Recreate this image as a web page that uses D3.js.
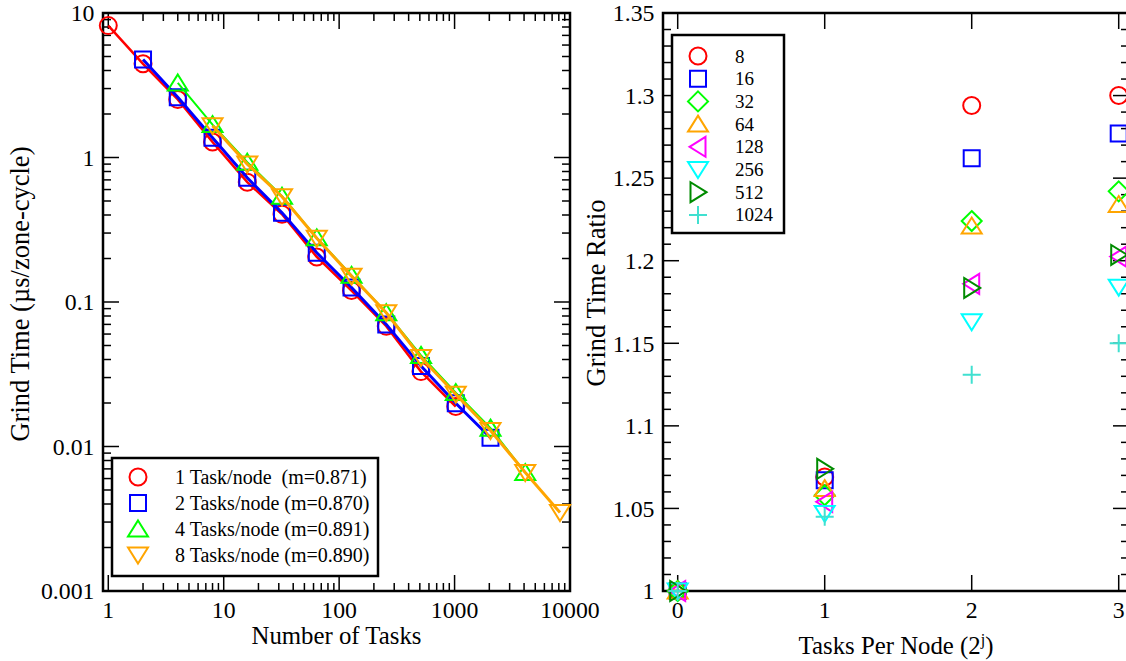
<!DOCTYPE html>
<html><head><meta charset="utf-8">
<script src="https://cdn.jsdelivr.net/npm/d3@7"></script>
<style>
html,body{margin:0;padding:0;background:#fff;}
svg text{font-family:"Liberation Serif","Times New Roman",serif;fill:#000;}
</style></head>
<body>
<svg id="c" width="1126" height="661"></svg>
<script>
// ---------- Left panel data ----------
const tasks1 = [1,2,4,8,16,32,64,128,256,512,1024];
const time1  = [8.18,4.45,2.52,1.28,0.675,0.405,0.205,0.120,0.068,0.033,0.0189];
const tasks2 = [2,4,8,16,32,64,128,256,512,1024,2048];
const time2  = [4.76,2.61,1.37,0.724,0.414,0.219,0.126,0.070,0.036,0.0199,0.0115];
const tasks4 = [4,8,16,32,64,128,256,512,1024,2048,4096];
const time4  = [3.28,1.69,0.928,0.540,0.278,0.153,0.0843,0.0427,0.0236,0.0134,0.0066];
const tasks8 = [8,16,32,64,128,256,512,1024,2048,4096,8192];
const time8  = [1.66,0.90,0.535,0.276,0.151,0.0843,0.0413,0.0230,0.0129,0.0066,0.00349];
const leftLegend = ["1 Task/node  (m=0.871)","2 Tasks/node (m=0.870)","4 Tasks/node (m=0.891)","8 Tasks/node (m=0.890)"];
const leftXTicks = [1,10,100,1000,10000];
const leftXLabels = ["1","10","100","1000","10000"];
const leftYTicks = [0.001,0.01,0.1,1,10];
const leftYLabels = ["0.001","0.01","0.1","1","10"];

// ---------- Right panel data ----------
const xj = [0,1,2,3];
const r8    = [1,1.069,1.294,1.300];
const r16   = [1,1.067,1.262,1.277];
const r32   = [1,1.058,1.224,1.242];
const r64   = [1,1.062,1.221,1.234];
const r128  = [1,1.054,1.186,1.2025];
const r256  = [1,1.047,1.163,1.184];
const r512  = [1,1.074,1.1835,1.2035];
const r1024 = [1,1.045,1.131,1.150];
const rightNames = ["8","16","32","64","128","256","512","1024"];
const rightYTicks = [1,1.05,1.1,1.15,1.2,1.25,1.3,1.35];
const rightYLabels = ["1","1.05","1.1","1.15","1.2","1.25","1.3","1.35"];
const rightXTicks = [0,1,2,3];

// ---------- helpers ----------
function symPath(t){
  switch(t){
    case "circle": return d3.symbol(d3.symbolCircle, Math.PI*8.5*8.5)();
    case "square": return "M-8,-8H8V8H-8Z";
    case "diamond": return "M0,-10L10,0L0,10L-10,0Z";
    case "up": return "M0,-8.5L10,7.5L-10,7.5Z";
    case "down": return "M0,8.5L10,-7.5L-10,-7.5Z";
    case "left": return "M-8.5,0L7.5,-10L7.5,10Z";
    case "right": return "M8.5,0L-7.5,-10L-7.5,10Z";
    case "plus": return "M-9,0H9M0,-9V9";
  }
}
const svg = d3.select("#c");
const FS_TICK = 23.8, FS_XTITLE = 24.8, FS_YTITLE = 26.5;

// =================== LEFT PANEL ===================
const L = {x0:103,x1:570,y0:13,y1:591};
const lx = d3.scaleLog().domain([0.9,10000]).range([L.x0,L.x1]);
const ly = d3.scaleLog().domain([0.001,10]).range([L.y1,L.y0]);
const gL = svg.append("g");

function logMinors(lo,hi){const a=[];for(let e=Math.floor(Math.log10(lo));e<=Math.ceil(Math.log10(hi));e++){for(let k=2;k<=9;k++){const v=k*Math.pow(10,e);if(v>lo&&v<hi)a.push(v);}}return a;}
const lxMin = logMinors(1,10000), lyMin = logMinors(0.001,10);
const tk = gL.append("g").attr("stroke","#000").attr("stroke-width",1.5);
leftXTicks.forEach(v=>{const x=lx(v);
  tk.append("line").attr("x1",x).attr("x2",x).attr("y1",L.y1).attr("y2",L.y1-16);
  tk.append("line").attr("x1",x).attr("x2",x).attr("y1",L.y0).attr("y2",L.y0+16);});
lxMin.forEach(v=>{const x=lx(v);
  tk.append("line").attr("x1",x).attr("x2",x).attr("y1",L.y1).attr("y2",L.y1-8);
  tk.append("line").attr("x1",x).attr("x2",x).attr("y1",L.y0).attr("y2",L.y0+8);});
leftYTicks.forEach(v=>{const y=ly(v);
  tk.append("line").attr("x1",L.x0).attr("x2",L.x0+16).attr("y1",y).attr("y2",y);
  tk.append("line").attr("x1",L.x1).attr("x2",L.x1-16).attr("y1",y).attr("y2",y);});
lyMin.forEach(v=>{const y=ly(v);
  tk.append("line").attr("x1",L.x0).attr("x2",L.x0+8).attr("y1",y).attr("y2",y);
  tk.append("line").attr("x1",L.x1).attr("x2",L.x1-8).attr("y1",y).attr("y2",y);});
gL.append("rect").attr("x",L.x0).attr("y",L.y0).attr("width",L.x1-L.x0).attr("height",L.y1-L.y0)
  .attr("fill","none").attr("stroke","#000").attr("stroke-width",2.5);
leftXTicks.forEach((v,i)=>gL.append("text").attr("x",lx(v)).attr("y",618).attr("text-anchor","middle")
  .attr("font-size",FS_TICK).text(leftXLabels[i]));
leftYTicks.forEach((v,i)=>gL.append("text").attr("x",L.x0-8.5).attr("y",ly(v)).attr("dy","0.35em").attr("text-anchor","end")
  .attr("font-size",FS_TICK).text(leftYLabels[i]));
gL.append("text").attr("x",(L.x0+L.x1)/2).attr("y",644).attr("text-anchor","middle").attr("font-size",FS_XTITLE).text("Number of Tasks");
gL.append("text").attr("transform",`translate(29,294) rotate(-90)`).attr("text-anchor","middle")
  .attr("font-size",FS_YTITLE).text("Grind Time (µs/zone-cycle)");

const leftSeries = [
  {x:tasks1,y:time1,color:"#ff0000",sym:"circle",lw:2.5},
  {x:tasks2,y:time2,color:"#0000ff",sym:"square",lw:3},
  {x:tasks4,y:time4,color:"#00ff00",sym:"up",lw:2},
  {x:tasks8,y:time8,color:"#ffa500",sym:"down",lw:3}
];
const lineL = d3.line().x(d=>lx(d[0])).y(d=>ly(d[1]));
leftSeries.forEach(s=>{
  const pts = s.x.map((v,i)=>[v,s.y[i]]);
  gL.append("path").attr("d",lineL(pts)).attr("fill","none").attr("stroke",s.color).attr("stroke-width",s.lw);
  gL.selectAll(null).data(pts).enter().append("path").attr("d",symPath(s.sym))
    .attr("transform",d=>`translate(${lx(d[0])},${ly(d[1])})`)
    .attr("fill","none").attr("stroke",s.color).attr("stroke-width",2);
});
const lg = gL.append("g");
lg.append("rect").attr("x",112).attr("y",458).attr("width",266).attr("height",118).attr("fill","#fff").attr("stroke","#000").attr("stroke-width",2.5);
leftSeries.forEach((s,i)=>{
  const cy = 477 + i*26;
  lg.append("path").attr("d",symPath(s.sym)).attr("transform",`translate(138,${cy})`).attr("fill","none").attr("stroke",s.color).attr("stroke-width",2);
  lg.append("text").attr("x",175).attr("y",cy+6.7).attr("font-size",20).style("white-space","pre").text(leftLegend[i]);
});

// =================== RIGHT PANEL ===================
const R = {x0:663,x1:1129,y0:13,y1:591};
const rx = d3.scaleLinear().domain([-0.1,3.07]).range([R.x0,R.x1]);
const ry = d3.scaleLinear().domain([1,1.35]).range([R.y1,R.y0]);
const gR = svg.append("g");
const tr = gR.append("g").attr("stroke","#000").attr("stroke-width",1.5);
rightXTicks.forEach(v=>{const x=rx(v);
  tr.append("line").attr("x1",x).attr("x2",x).attr("y1",R.y1).attr("y2",R.y1-16);
  tr.append("line").attr("x1",x).attr("x2",x).attr("y1",R.y0).attr("y2",R.y0+16);});
d3.range(0,36).forEach(k=>{const v=1+k*0.01;const y=ry(v);const major=(k%5===0);const len=major?16:8;
  tr.append("line").attr("x1",R.x0).attr("x2",R.x0+len).attr("y1",y).attr("y2",y);
  tr.append("line").attr("x1",R.x1).attr("x2",R.x1-len).attr("y1",y).attr("y2",y);});
gR.append("rect").attr("x",R.x0).attr("y",R.y0).attr("width",R.x1-R.x0).attr("height",R.y1-R.y0)
  .attr("fill","none").attr("stroke","#000").attr("stroke-width",2.5);
rightXTicks.forEach(v=>gR.append("text").attr("x",rx(v)).attr("y",618).attr("text-anchor","middle").attr("font-size",FS_TICK).text(String(v)));
rightYTicks.forEach((v,i)=>gR.append("text").attr("x",R.x0-8.5).attr("y",ry(v)).attr("dy","0.35em").attr("text-anchor","end").attr("font-size",FS_TICK).text(rightYLabels[i]));
const xt = gR.append("text").attr("x",(R.x0+R.x1)/2).attr("y",654).attr("text-anchor","middle").attr("font-size",FS_XTITLE);
xt.append("tspan").text("Tasks Per Node (2");
xt.append("tspan").attr("dy",-9).attr("font-size",16).text("j");
xt.append("tspan").attr("dy",9).text(")");
gR.append("text").attr("transform",`translate(605,293) rotate(-90)`).attr("text-anchor","middle").attr("font-size",FS_YTITLE).text("Grind Time Ratio");

const rightSeries = [
  {y:r8,color:"#ff0000",sym:"circle"},
  {y:r16,color:"#0000ff",sym:"square"},
  {y:r32,color:"#00ff00",sym:"diamond"},
  {y:r64,color:"#ffa500",sym:"up"},
  {y:r128,color:"#ff00ff",sym:"left"},
  {y:r256,color:"#00ffff",sym:"down"},
  {y:r512,color:"#008b00",sym:"right"},
  {y:r1024,color:"#40e0d0",sym:"plus"}
];
rightSeries.forEach(s=>{
  const pts = xj.map((v,i)=>[v,s.y[i]]);
  gR.selectAll(null).data(pts).enter().append("path").attr("d",symPath(s.sym))
    .attr("transform",d=>`translate(${rx(d[0])},${ry(d[1])})`)
    .attr("fill","none").attr("stroke",s.color).attr("stroke-width",2);
});
const rg = gR.append("g");
rg.append("rect").attr("x",672).attr("y",35).attr("width",112).attr("height",198).attr("fill","#fff").attr("stroke","#000").attr("stroke-width",2.5);
rightSeries.forEach((s,i)=>{
  const cy = 56 + i*22.7;
  rg.append("path").attr("d",symPath(s.sym)).attr("transform",`translate(698,${cy})`).attr("fill","none").attr("stroke",s.color).attr("stroke-width",2);
  rg.append("text").attr("x",735).attr("y",cy+6.5).attr("font-size",19).text(rightNames[i]);
});
</script>
</body></html>
